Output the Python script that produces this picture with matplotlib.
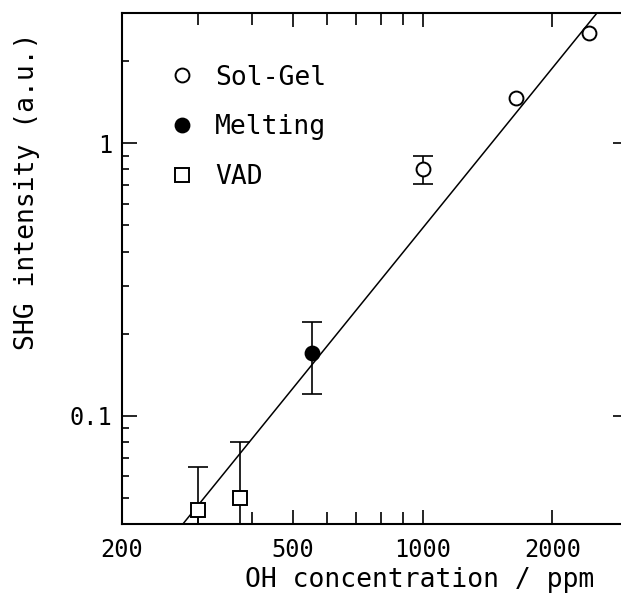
import matplotlib.pyplot as plt
from matplotlib.ticker import FixedLocator, FixedFormatter, NullFormatter

plt.rcParams['font.family'] = ['DejaVu Sans Mono']

# Sol-Gel (open circles); only the 1000 ppm point carries an error bar
solgel_x = [1000, 1650, 2430]
solgel_y = [0.80, 1.46, 2.54]
solgel_err_x = [1000]
solgel_err_y = [0.80]
solgel_lo = [0.71]
solgel_hi = [0.90]

# Melting (filled circle)
melt_x = [553]
melt_y = [0.17]
melt_lo = [0.12]
melt_hi = [0.22]

# VAD (open squares)
vad_x = [300, 376]
vad_y = [0.045, 0.050]
vad_lo = [0.03, 0.03]
vad_hi = [0.065, 0.080]

# fitted line (end points)
fit_x = [277, 2540]
fit_y = [0.04, 3.0]

x_ticks = [200, 500, 1000, 2000]
x_labels = ["200", "500", "1000", "2000"]
x_minor = [300, 400, 600, 700, 800, 900, 3000]
y_ticks = [0.1, 1]
y_labels = ["0.1", "1"]
y_minor = [0.04, 0.05, 0.06, 0.07, 0.08, 0.09, 0.2, 0.3, 0.4, 0.5, 0.6, 0.7, 0.8, 0.9, 2, 3]

fig = plt.figure(figsize=(6.21, 5.94), dpi=100)
ax = fig.add_axes([0.1965, 0.1178, 0.8148, 0.8602])
ax.set_xscale("log")
ax.set_yscale("log")
ax.set_xlim(200, 3000)
ax.set_ylim(0.04, 3.0)

ax.plot(fit_x, fit_y, color="black", lw=1.1)

def err(y, lo, hi):
    return [[a - b for a, b in zip(y, lo)], [b - a for a, b in zip(y, hi)]]

ebar = dict(fmt="none", ecolor="black", elinewidth=1.2, capsize=7, capthick=1.2)
ax.errorbar(solgel_err_x, solgel_err_y, yerr=err(solgel_err_y, solgel_lo, solgel_hi), **ebar)
ax.errorbar(melt_x, melt_y, yerr=err(melt_y, melt_lo, melt_hi), **ebar)
ax.errorbar(vad_x, vad_y, yerr=err(vad_y, vad_lo, vad_hi), **ebar)

ax.plot(solgel_x, solgel_y, "o", ms=10, mfc="white", mec="black", mew=1.4, ls="none", label="Sol-Gel")
ax.plot(melt_x, melt_y, "o", ms=10, mfc="black", mec="black", mew=1.4, ls="none", label="Melting")
ax.plot(vad_x, vad_y, "s", ms=10, mfc="white", mec="black", mew=1.4, ls="none", label="VAD")

ax.xaxis.set_major_locator(FixedLocator(x_ticks))
ax.xaxis.set_major_formatter(FixedFormatter(x_labels))
ax.xaxis.set_minor_locator(FixedLocator(x_minor))
ax.xaxis.set_minor_formatter(NullFormatter())
ax.yaxis.set_major_locator(FixedLocator(y_ticks))
ax.yaxis.set_major_formatter(FixedFormatter(y_labels))
ax.yaxis.set_minor_locator(FixedLocator(y_minor))
ax.yaxis.set_minor_formatter(NullFormatter())

ax.tick_params(which="both", direction="in", top=True, right=True, width=1.2, labelsize=17)
ax.tick_params(axis="x", which="major", length=10, pad=10)
ax.tick_params(axis="x", which="minor", length=8.5)
ax.tick_params(axis="y", which="major", length=11, pad=7)
ax.tick_params(axis="y", which="minor", length=5)
for s in ax.spines.values():
    s.set_linewidth(1.5)

ax.set_xlabel("OH concentration / ppm", fontsize=19)
ax.xaxis.set_label_coords(0.589, -0.085)
ax.set_ylabel("SHG intensity (a.u.)", fontsize=19)
ax.yaxis.set_label_coords(-0.162, 0.652)

ax.legend(loc="upper left", bbox_to_anchor=(0.072, 0.92), frameon=False, fontsize=19,
          handlelength=1.0, handletextpad=0.75, labelspacing=0.9, borderaxespad=0)

plt.savefig("out.png", dpi=100)
